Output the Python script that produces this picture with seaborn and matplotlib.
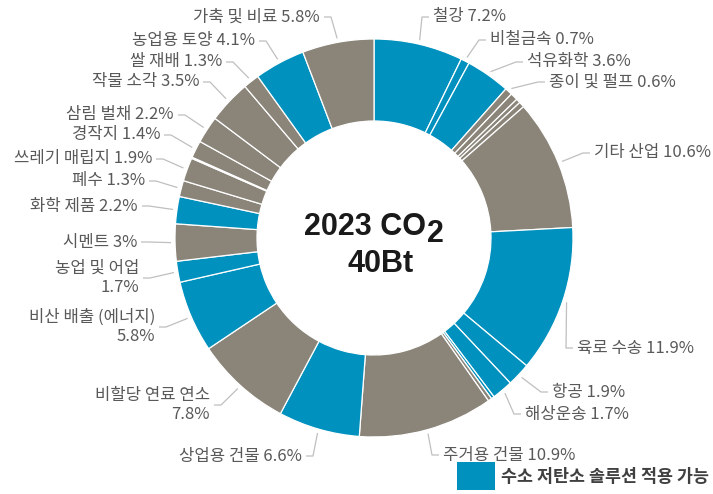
import numpy as np
import matplotlib
matplotlib.use("Agg")
import matplotlib.pyplot as plt
import seaborn as sns

# ---- data (clockwise from 12 o'clock) ----
sectors = ["철강", "비철금속", "석유화학", "종이 및 펄프", "", "", "", "기타 산업",
           "육로 수송", "항공", "해상운송", "", "", "주거용 건물", "상업용 건물",
           "비할당 연료 연소", "비산 배출 (에너지)", "농업 및 어업", "시멘트", "화학 제품",
           "폐수", "쓰레기 매립지", "", "경작지", "삼림 벌채", "작물 소각", "쌀 재배",
           "농업용 토양", "가축 및 비료"]
shares = [7.2, 0.7, 3.6, 0.6, 0.6, 0.35, 0.45, 10.6,
          11.9, 1.9, 1.7, 0.25, 0.3, 10.9, 6.6,
          7.8, 5.8, 1.7, 3.0, 2.2,
          1.3, 1.9, 0.1, 1.4, 2.2, 3.5, 1.3,
          4.1, 5.8]
h2_ready = [True, True, True, False, False, False, False, False,
            True, True, True, True, False, False, True,
            False, True, True, False, True,
            False, False, False, False, False, False, False,
            True, False]
# labels that wrap onto a second line for the value
two_line = {"비할당 연료 연소", "비산 배출 (에너지)", "농업 및 어업"}

title_line1 = "2023 CO"
title_sub = "2"
title_line2 = "40Bt"
legend_text = "수소 저탄소 솔루션 적용 가능"

# ---- layout (pixel coordinates, y measured from top) ----
label_pos = {
    "철강": (433, 17), "비철금속": (490, 40), "석유화학": (527, 62),
    "종이 및 펄프": (549, 82), "기타 산업": (594, 153), "육로 수송": (577, 348),
    "항공": (552, 392), "해상운송": (525, 414), "주거용 건물": (443, 455),
    "상업용 건물": (302, 456), "비할당 연료 연소": (210, 405),
    "비산 배출 (에너지)": (155, 327), "농업 및 어업": (139, 278), "시멘트": (137, 242),
    "화학 제품": (138, 206), "폐수": (145, 181), "쓰레기 매립지": (152, 159),
    "경작지": (160, 135), "삼림 벌채": (174, 115), "작물 소각": (199, 82),
    "쌀 재배": (222, 62), "농업용 토양": (255, 41), "가축 및 비료": (320, 17),
}

W, H = 713, 494
CX, CY = 374, 238
R_OUT, R_IN = 199, 117

BLUE = "#0091BE"
GRAY = "#8A8479"
TEXT = "#595959"
LEADER = "#BFBFBF"

sns.set_theme(style="white")
plt.rcParams["font.family"] = ["Noto Sans CJK KR", "DejaVu Sans"]

fig = plt.figure(figsize=(W / 100, H / 100), dpi=100)
ax = fig.add_axes([0, 0, 1, 1])

def py(y):
    return H - y

colors = [BLUE if f else GRAY for f in h2_ready]
ax.pie(shares, colors=colors, startangle=90, counterclock=False,
       radius=R_OUT, center=(CX, py(CY)),
       wedgeprops=dict(width=R_OUT - R_IN, edgecolor="white", linewidth=0.9))

ax.set_xlim(0, W)
ax.set_ylim(0, H)
ax.set_aspect("equal")
ax.set_axis_off()

# ---- labels with leader lines ----
total = sum(shares)
cum = 0.0
for name, s in zip(sectors, shares):
    mid = cum + s / 2
    cum += s
    if not name:
        continue
    ang = np.deg2rad(90 - 360 * mid / total)
    ax_pt = (CX + (R_OUT + 4) * np.cos(ang), py(CY) + (R_OUT + 4) * np.sin(ang))
    lx, ly = label_pos[name]
    value = f"{s:g}%"
    txt = f"{name}\n{value}" if name in two_line else f"{name} {value}"
    if lx > CX:
        ha, elbow, end = "left", lx - 11, lx - 4
    else:
        ha, elbow, end = "right", lx + 11, lx + 4
    ax.plot([ax_pt[0], elbow, end], [ax_pt[1], py(ly), py(ly)],
            color=LEADER, lw=0.9, solid_capstyle="butt")
    ax.text(lx, py(ly), txt, ha=ha, va="center", multialignment=ha,
            fontsize=12, color=TEXT, linespacing=1.2)

# ---- centre title ----
title_font = dict(family=["Liberation Sans", "DejaVu Sans"], weight="bold",
                  color="#1A1A1A", fontsize=22)
ax.text(426, py(235), title_line1, ha="right", va="baseline", **title_font)
ax.text(427, py(242), title_sub, ha="left", va="baseline", **title_font)
ax.text(381, py(272), title_line2, ha="center", va="baseline", **title_font)

# ---- legend ----
ax.add_patch(plt.Rectangle((457, py(490)), 38, 28, color=BLUE, lw=0))
ax.text(501, py(477), legend_text, ha="left", va="center", fontsize=12.5,
        weight="bold", color="#404040")

fig.savefig("out.png", dpi=100)
